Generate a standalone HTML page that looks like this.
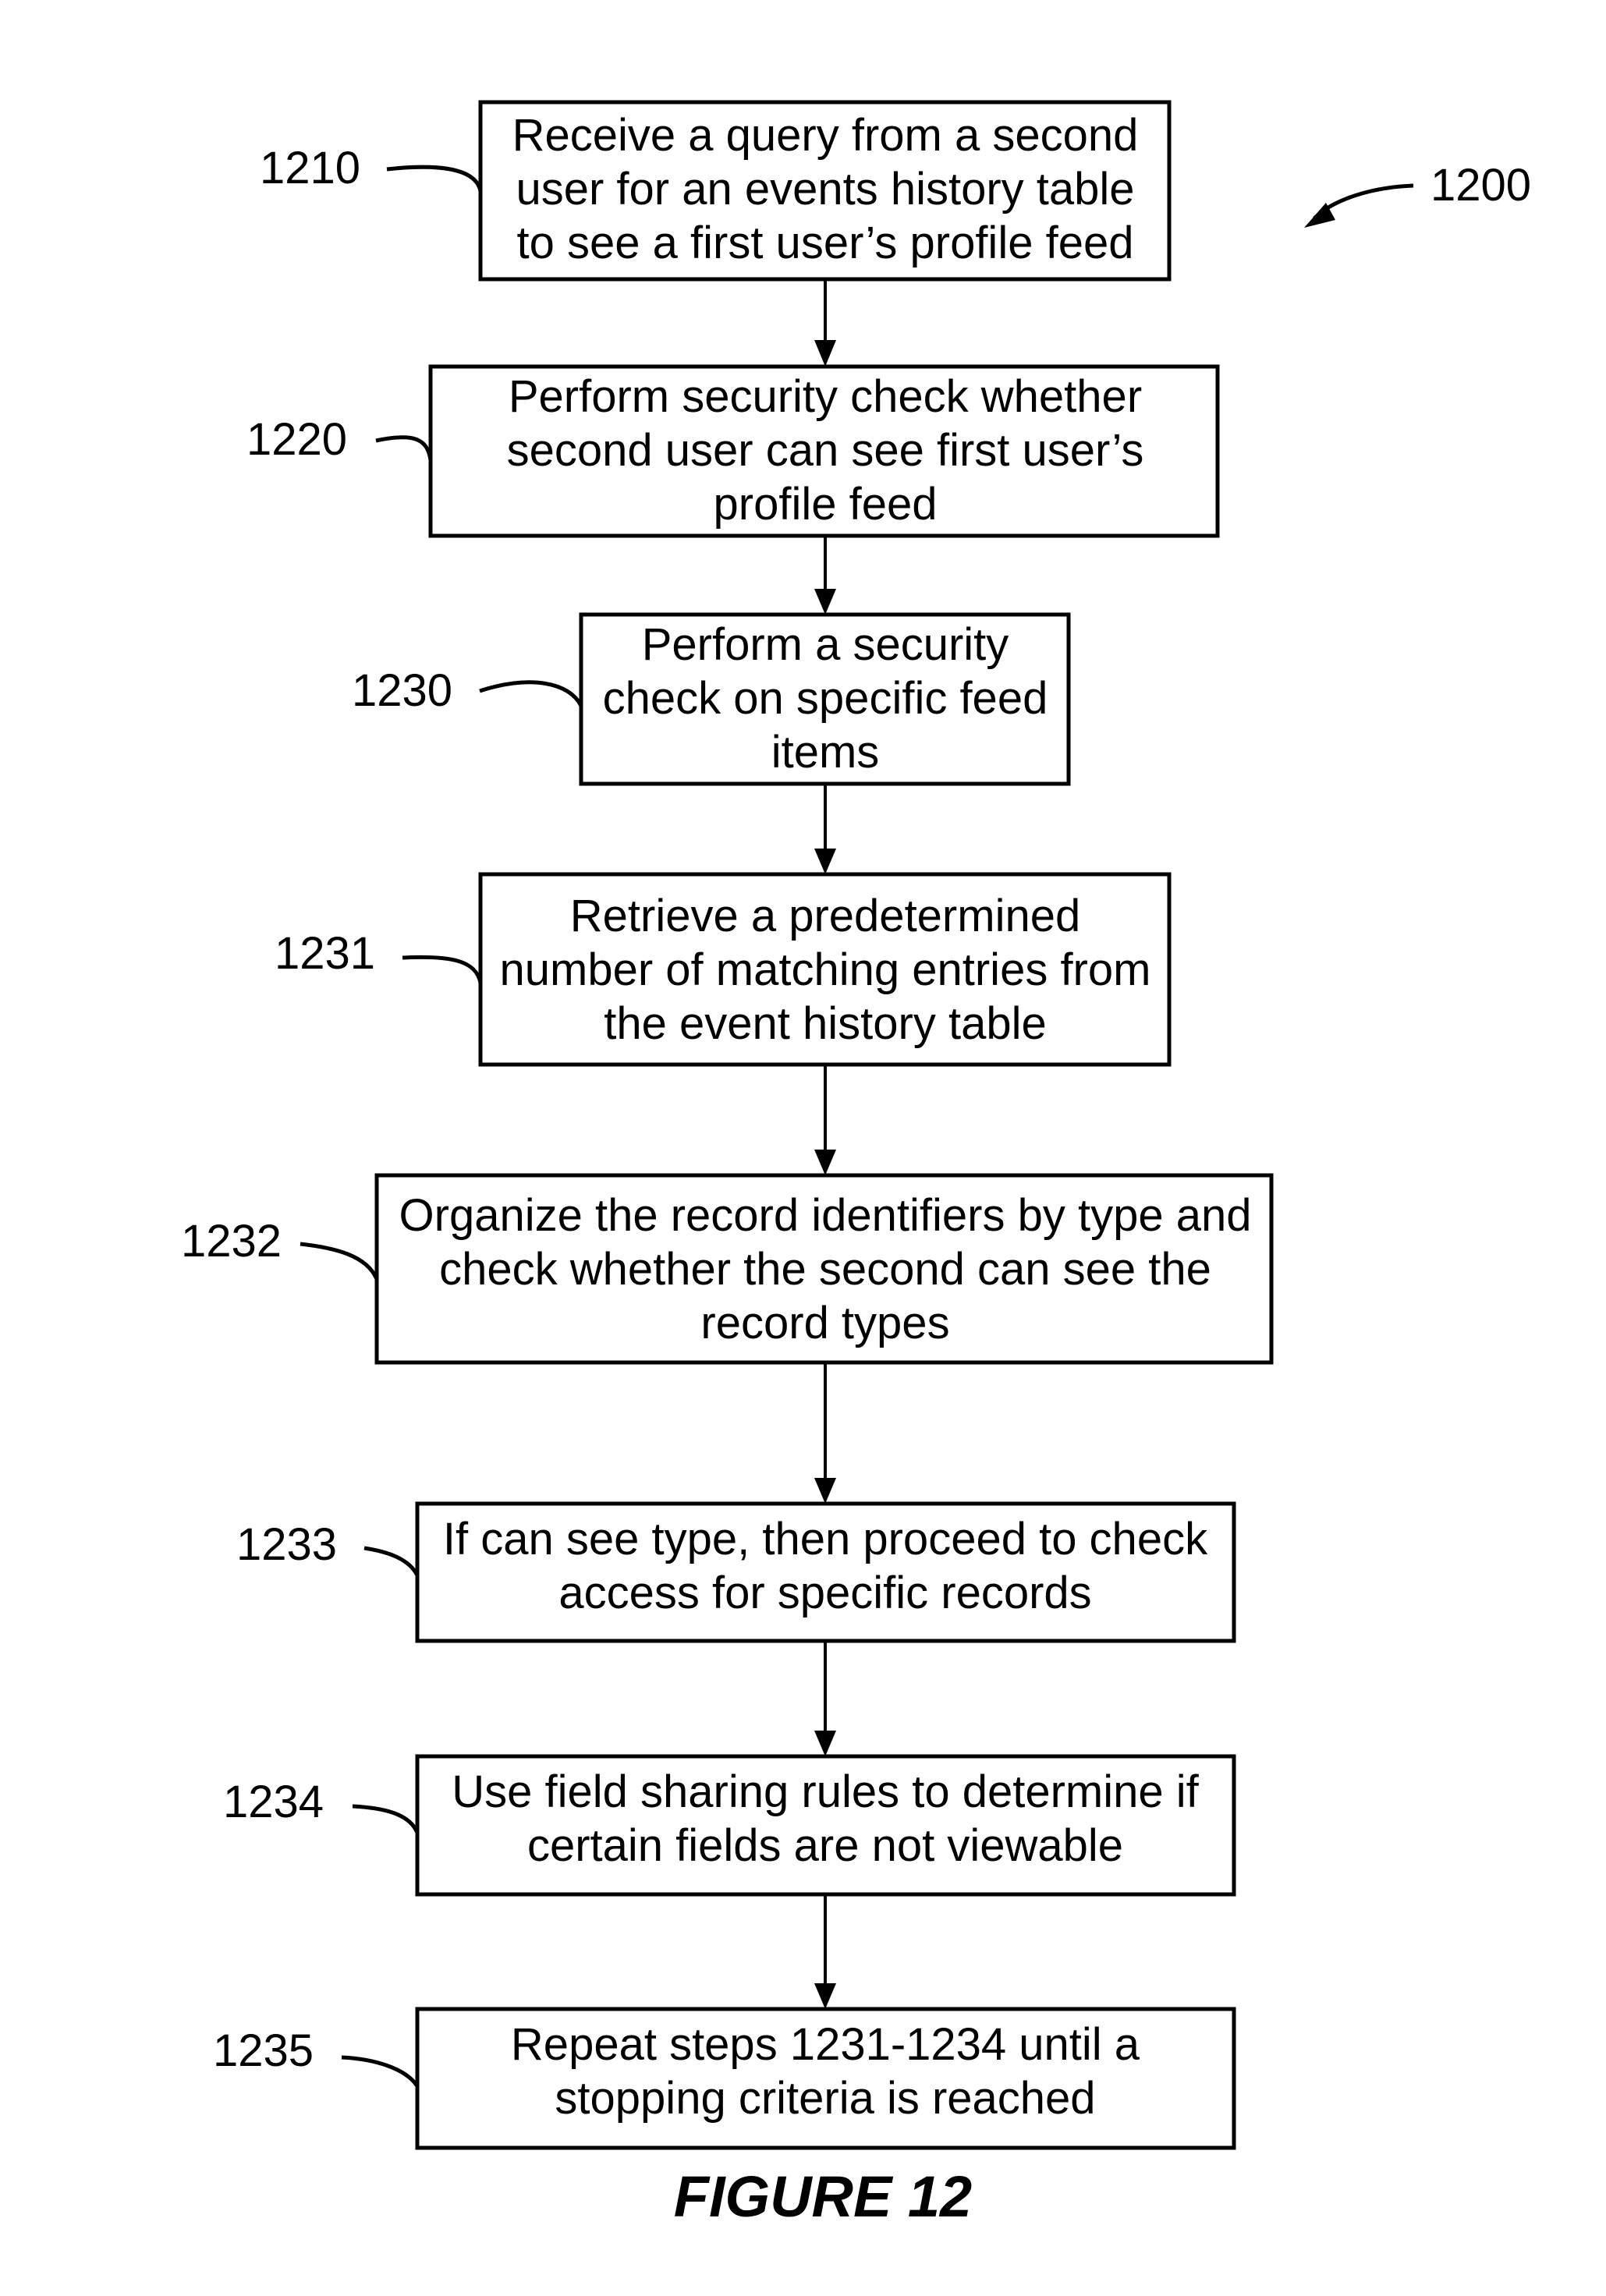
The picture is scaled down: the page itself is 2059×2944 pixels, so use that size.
<!DOCTYPE html>
<html><head><meta charset="utf-8"><style>html,body{margin:0;padding:0;background:#fff}svg{display:block}</style></head>
<body>
<svg width="2059" height="2944" viewBox="0 0 2059 2944" xmlns="http://www.w3.org/2000/svg" font-family="Liberation Sans, Arial, sans-serif">
<g fill="none" stroke="#000" stroke-width="5">
<rect x="616" y="131" width="883" height="227"/>
<rect x="552" y="470" width="1009" height="217"/>
<rect x="745" y="788" width="625" height="217"/>
<rect x="616" y="1121" width="883" height="244"/>
<rect x="483" y="1507" width="1147" height="240"/>
<rect x="535" y="1928" width="1047" height="176"/>
<rect x="535" y="2252" width="1047" height="177"/>
<rect x="535" y="2576" width="1047" height="178"/>
</g>
<g stroke="#000" stroke-width="4">
<line x1="1058" y1="358" x2="1058" y2="440"/><path d="M1044,436 L1072,436 L1058,470 z" fill="#000" stroke="none"/>
<line x1="1058" y1="687" x2="1058" y2="758"/><path d="M1044,755 L1072,755 L1058,788 z" fill="#000" stroke="none"/>
<line x1="1058" y1="1005" x2="1058" y2="1090"/><path d="M1044,1088 L1072,1088 L1058,1121 z" fill="#000" stroke="none"/>
<line x1="1058" y1="1365" x2="1058" y2="1475"/><path d="M1044,1474 L1072,1474 L1058,1507 z" fill="#000" stroke="none"/>
<line x1="1058" y1="1747" x2="1058" y2="1898"/><path d="M1044,1895 L1072,1895 L1058,1928 z" fill="#000" stroke="none"/>
<line x1="1058" y1="2104" x2="1058" y2="2222"/><path d="M1044,2219 L1072,2219 L1058,2252 z" fill="#000" stroke="none"/>
<line x1="1058" y1="2429" x2="1058" y2="2546"/><path d="M1044,2543 L1072,2543 L1058,2576 z" fill="#000" stroke="none"/>
</g>
<g fill="none" stroke="#000" stroke-width="5">
<path d="M496,217 C560,210 610,215 616,245"/>
<path d="M482,565 C530,555 548,562 552,590"/>
<path d="M615,886 C680,865 730,875 745,905"/>
<path d="M516,1228 C580,1225 610,1232 616,1260"/>
<path d="M385,1595 C430,1600 470,1610 483,1640"/>
<path d="M467,1985 C500,1990 525,2000 535,2020"/>
<path d="M452,2316 C490,2318 525,2325 535,2350"/>
<path d="M438,2638 C480,2640 520,2652 535,2675"/>
<path d="M1812,238 C1760,240 1710,255 1685,280"/>
</g>
<path d="M1672,292 L1700,260 L1712,282 z" fill="#000"/>
<g font-size="58" text-anchor="middle" fill="#000">
<text x="1058" y="193">Receive a query from a second</text>
<text x="1058" y="262">user for an events history table</text>
<text x="1058" y="331">to see a first user’s profile feed</text>
<text x="1058" y="528">Perform security check whether</text>
<text x="1058" y="597">second user can see first user’s</text>
<text x="1058" y="666">profile feed</text>
<text x="1058" y="846">Perform a security</text>
<text x="1058" y="915">check on specific feed</text>
<text x="1058" y="984">items</text>
<text x="1058" y="1194">Retrieve a predetermined</text>
<text x="1058" y="1263">number of matching entries from</text>
<text x="1058" y="1332">the event history table</text>
<text x="1058" y="1578">Organize the record identifiers by type and</text>
<text x="1058" y="1647">check whether the second can see the</text>
<text x="1058" y="1716">record types</text>
<text x="1058" y="1993">If can see type, then proceed to check</text>
<text x="1058" y="2062">access for specific records</text>
<text x="1058" y="2317">Use field sharing rules to determine if</text>
<text x="1058" y="2386">certain fields are not viewable</text>
<text x="1058" y="2641">Repeat steps 1231-1234 until a</text>
<text x="1058" y="2710">stopping criteria is reached</text>
</g>
<g font-size="58" fill="#000">
<text x="333" y="235">1210</text>
<text x="316" y="583">1220</text>
<text x="451" y="905">1230</text>
<text x="352" y="1242">1231</text>
<text x="232" y="1611">1232</text>
<text x="303" y="2000">1233</text>
<text x="286" y="2330">1234</text>
<text x="273" y="2649">1235</text>
<text x="1834" y="257">1200</text>
</g>
<text x="1055" y="2842" font-size="74" font-weight="bold" font-style="italic" text-anchor="middle" fill="#000">FIGURE 12</text>
</svg>
</body></html>
